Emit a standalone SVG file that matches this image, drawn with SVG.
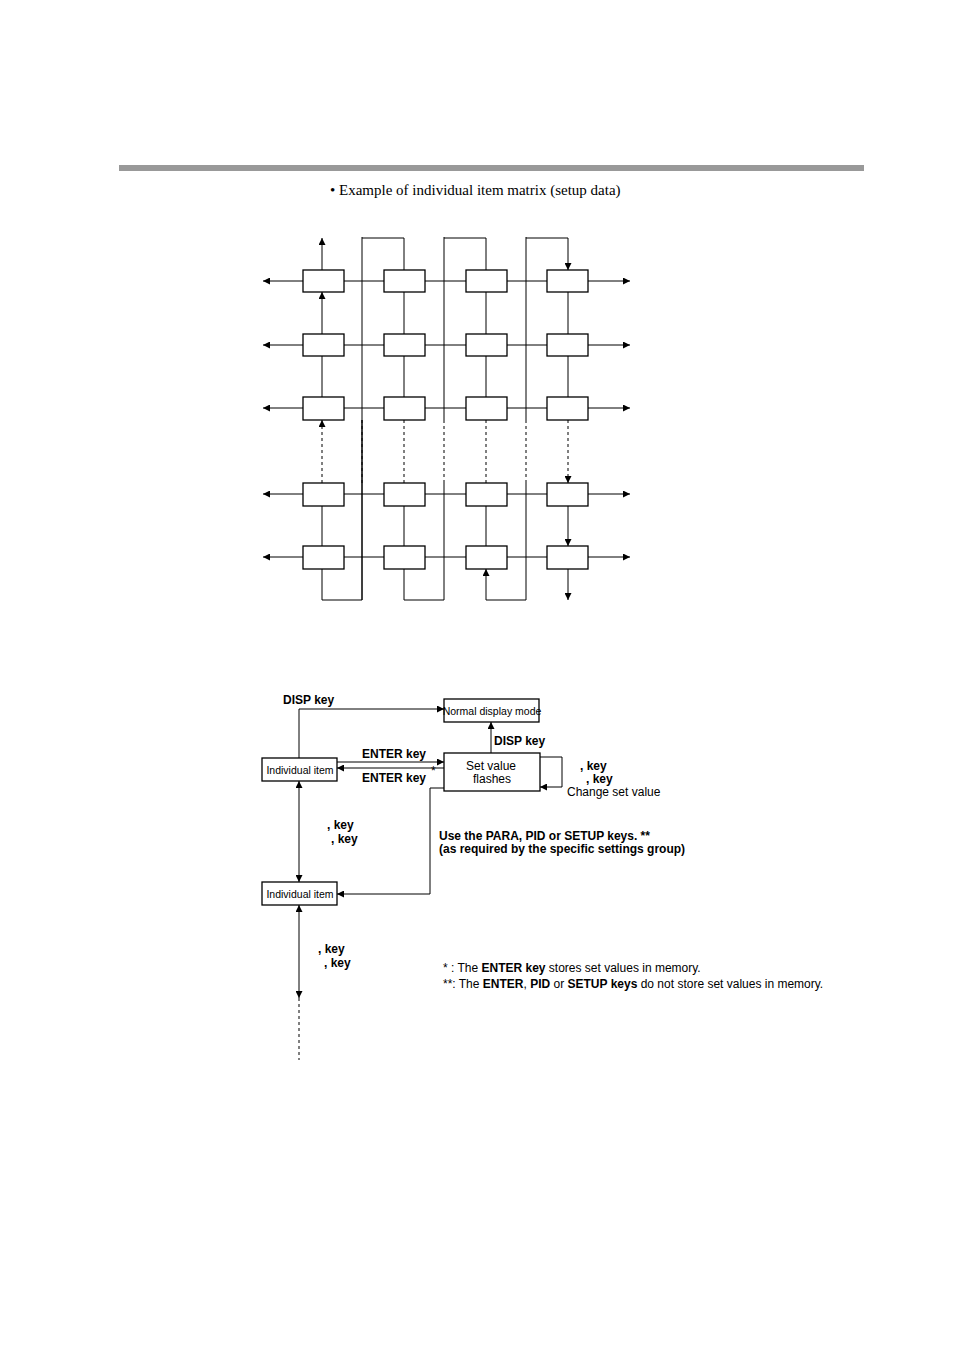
<svg xmlns="http://www.w3.org/2000/svg" width="954" height="1351" viewBox="0 0 954 1351">
<style>
.b{fill:#fff;stroke:#000;stroke-width:1.3}
.l{fill:none;stroke:#000;stroke-width:1}
.a{fill:none;stroke:#000;stroke-width:1;marker-start:url(#m);marker-end:url(#m)}
.e{fill:none;stroke:#000;stroke-width:1;marker-end:url(#m)}
.d{stroke-dasharray:3,3}
.t{font-family:"Liberation Sans",Arial,sans-serif;font-size:12px;font-weight:bold}
.n{font-family:"Liberation Sans",Arial,sans-serif;font-size:12px}
.s{font-family:"Liberation Sans",Arial,sans-serif;font-size:10.5px}
</style>
<defs><marker id="m" viewBox="0 0 10 10" refX="10" refY="5" markerWidth="9" markerHeight="7" orient="auto-start-reverse" markerUnits="userSpaceOnUse"><path d="M0,0L10,5L0,10z"/></marker></defs>
<rect x="119" y="165" width="745" height="6" fill="#999"/>
<text x="330" y="195" font-family="Liberation Serif,serif" font-size="15">•  Example of individual item matrix (setup data)</text>
<g id="connectors">
<path class="l" d="M362,600V420M362,420V483"/>
<path class="l" d="M362,237V420M444,237V420M526,237V420M362,483V600M444,483V600M526,483V600"/>
<path class="l d" d="M362,420V483M444,420V483M526,420V483"/>
<path class="e" d="M362,238H404V270M444,238H486V270M526,238H568V270"/>
<path class="e" d="M362,600H322V569M444,600H404V569M526,600H486V569"/>
<path class="a" d="M322,238V270M568,569V600"/>
<g id="h">
<path class="a" d="M263,281H303M344,281H384M425,281H466M507,281H547M588,281H630"/>
<path class="a" d="M263,345H303M344,345H384M425,345H466M507,345H547M588,345H630"/>
<path class="a" d="M263,408H303M344,408H384M425,408H466M507,408H547M588,408H630"/>
<path class="a" d="M263,494H303M344,494H384M425,494H466M507,494H547M588,494H630"/>
<path class="a" d="M263,557H303M344,557H384M425,557H466M507,557H547M588,557H630"/>
</g>
<path class="a" d="M322,292V334M404,292V334M486,292V334M568,292V334M322,356V397M404,356V397M486,356V397M568,356V397M322,506V546M404,506V546M486,506V546M568,506V546"/>
<path class="a d" d="M322,420V483M404,420V483M486,420V483M568,420V483"/>
<path class="e" d="M299,758V709H444"/>
<path class="e" d="M491,753V722"/>
<path class="e" d="M337,762H444"/>
<path class="e" d="M444,768H337"/>
<path class="e" d="M540,757H562V787H540"/>
<path class="e" d="M444,788H430V894H337"/>
<path class="a" d="M299,781V882"/>
<path class="a" d="M299,905V998"/>
<path class="l d" d="M299,998V1060"/>
</g>
<g id="matrix">
<rect class="b" x="303" y="270" width="41" height="22"/><rect class="b" x="384" y="270" width="41" height="22"/><rect class="b" x="466" y="270" width="41" height="22"/><rect class="b" x="547" y="270" width="41" height="22"/>
<rect class="b" x="303" y="334" width="41" height="22"/><rect class="b" x="384" y="334" width="41" height="22"/><rect class="b" x="466" y="334" width="41" height="22"/><rect class="b" x="547" y="334" width="41" height="22"/>
<rect class="b" x="303" y="397" width="41" height="23"/><rect class="b" x="384" y="397" width="41" height="23"/><rect class="b" x="466" y="397" width="41" height="23"/><rect class="b" x="547" y="397" width="41" height="23"/>
<rect class="b" x="303" y="483" width="41" height="23"/><rect class="b" x="384" y="483" width="41" height="23"/><rect class="b" x="466" y="483" width="41" height="23"/><rect class="b" x="547" y="483" width="41" height="23"/>
<rect class="b" x="303" y="546" width="41" height="23"/><rect class="b" x="384" y="546" width="41" height="23"/><rect class="b" x="466" y="546" width="41" height="23"/><rect class="b" x="547" y="546" width="41" height="23"/>
</g>
<g id="item1"><rect class="b" x="262" y="758" width="75" height="23"/><text class="s" x="300" y="774" text-anchor="middle">Individual item</text></g>
<g id="item2"><rect class="b" x="262" y="882" width="75" height="23"/><text class="s" x="300" y="898" text-anchor="middle">Individual item</text></g>
<g id="normal"><rect class="b" x="444" y="699" width="95" height="23"/><text class="s" x="492" y="715" text-anchor="middle">Normal display mode</text></g>
<g id="setv"><rect class="b" x="444" y="753" width="96" height="38"/><text class="n" x="491" y="770" text-anchor="middle">Set value</text><text class="n" x="492" y="783" text-anchor="middle">flashes</text></g>
<text class="t" x="283" y="704">DISP key</text>
<text class="t" x="494" y="745">DISP key</text>
<text class="t" x="362" y="758">ENTER key</text>
<text class="t" x="362" y="782">ENTER key</text><text class="n" x="431" y="775" font-size="8">*</text>
<text class="t" x="580" y="770">,    key</text>
<text class="t" x="586" y="783">,    key</text>
<text class="n" x="567" y="796">Change set value</text>
<text class="t" x="327" y="829">,    key</text>
<text class="t" x="331" y="843">,    key</text>
<text class="t" x="439" y="840">Use the PARA, PID or SETUP keys. **</text>
<text class="t" x="439" y="853">(as required by the specific settings group)</text>
<text class="t" x="318" y="953">,    key</text>
<text class="t" x="324" y="967">,    key</text>
<text class="n" x="443" y="972">* : The <tspan font-weight="bold">ENTER key</tspan> stores set values in memory.</text>
<text class="n" x="443" y="988">**: The <tspan font-weight="bold">ENTER</tspan>, <tspan font-weight="bold">PID</tspan> or <tspan font-weight="bold">SETUP keys</tspan> do not store set values in memory.</text>
</svg>
